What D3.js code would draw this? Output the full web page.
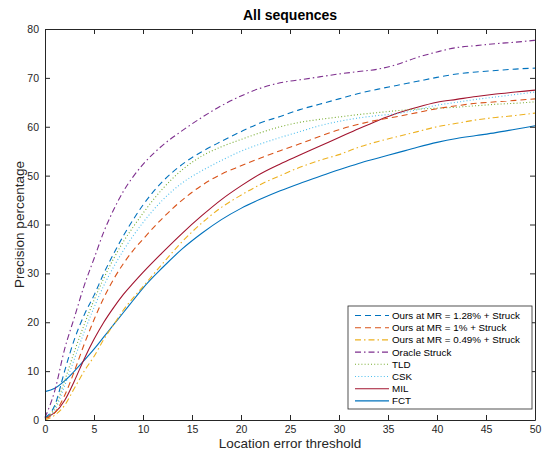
<!DOCTYPE html>
<html>
<head>
<meta charset="utf-8">
<script src="https://cdn.jsdelivr.net/npm/d3@7"></script>
<style>
  body { margin: 0; background: #fff; }
  svg { font-family: "Liberation Sans", Arial, sans-serif; }
</style>
</head>
<body>
<svg id="chart" width="543" height="455"></svg>
<script>
// threshold values (x)
const thresholds = [0,1,2,3,4,5,6,7,8,9,10,12,14,16,18,20,22,24,26,28,30,32,34,36,38,40,42,44,46,48,50]

// precision percentage per tracker
const ours128 = [0.5,3,10,16.5,21.5,25.5,30,34,37.7,41,44,48.8,52.3,54.9,57,59,60.8,62.1,63.5,64.6,65.7,66.8,67.7,68.5,69.3,70.1,70.8,71.2,71.5,71.8,72]
const ours1 = [0.3,1.5,5,10,15.5,20.5,25,28.8,32,34.7,37,41.3,45,48,50.3,52,53.6,55.1,56.5,58,59.4,60.5,61.4,62.1,62.9,63.7,64.3,64.8,65.1,65.4,65.7]
const ours049 = [0,1,3,6.5,10,13,16.5,19.5,22.5,25,27.3,32,36.5,40.3,43.5,46,48.2,50,51.7,53.1,54.3,55.8,57,58,59,60,60.7,61.4,61.9,62.3,62.8]
const oracle = [0.5,6,14.5,21,27.5,33,38.5,43,46.8,49.8,52.3,56.2,59.2,61.9,64.3,66.3,67.9,69,69.6,70.2,70.8,71.3,71.8,72.8,74.2,75.3,76.2,76.6,77,77.3,77.7]
const tld = [0.3,2.5,8,14,19.5,24.5,29,33,36.5,39.5,42.3,47.3,51.2,54,55.9,57.4,58.8,60,60.9,61.5,62,62.5,62.9,63.3,63.6,63.8,64,64.3,64.6,64.8,65.1]
const csk = [0.3,2,7,12.5,18,23,27.5,31.3,34.7,37.7,40.4,45,48.5,51,53.1,55,56.5,57.8,59,60.2,61.1,61.8,62.3,62.7,63.5,64.4,65,65.6,66.1,66.6,67.1]
const mil = [0.5,1.5,4,8,12.5,16.5,20,23,25.7,28,30.2,34.3,38.2,41.8,45.1,47.9,50.4,52.4,54.2,56,57.8,59.6,61.3,62.8,64,65,65.6,66.2,66.7,67.1,67.5]
const fct = [5.8,6.5,8,10,12.2,14.5,17,19.5,22,24.5,27,31.2,35,38.2,41,43.3,45.2,46.9,48.4,49.8,51.2,52.5,53.6,54.7,55.8,56.8,57.6,58.2,58.8,59.5,60.2]

const names = ['Ours at MR = 1.28% + Struck','Ours at MR = 1% + Struck','Ours at MR = 0.49% + Struck','Oracle Struck','TLD','CSK','MIL','FCT']
const xTicks = [0,5,10,15,20,25,30,35,40,45,50]
const yTicks = [0,10,20,30,40,50,60,70,80]

const series = [
  { name: names[0], values: ours128, color: '#0072BD', dash: '6,4' },
  { name: names[1], values: ours1, color: '#D95319', dash: '6,4' },
  { name: names[2], values: ours049, color: '#EDB120', dash: '6,3,1.5,3' },
  { name: names[3], values: oracle, color: '#7E2F8E', dash: '6,3,1.5,3' },
  { name: names[4], values: tld, color: '#77AC30', dash: '1,2.2' },
  { name: names[5], values: csk, color: '#4DBEEE', dash: '1,2.2' },
  { name: names[6], values: mil, color: '#A2142F', dash: null },
  { name: names[7], values: fct, color: '#0072BD', dash: null }
]

const svg = d3.select('#chart')
const pLeft = 45, pRight = 535, pTop = 29, pBottom = 420
const axisColor = '#262626'

const x = d3.scaleLinear().domain([0, 50]).range([pLeft, pRight])
const y = d3.scaleLinear().domain([0, 80]).range([pBottom, pTop])

// plot background
svg.append('rect').attr('x', pLeft).attr('y', pTop)
  .attr('width', pRight - pLeft).attr('height', pBottom - pTop).attr('fill', '#fff')

// curves
const line = d3.line()
  .x((d, i) => x(thresholds[i]))
  .y(d => y(d))
  .curve(d3.curveMonotoneX)

const plot = svg.append('g')
series.slice().reverse().forEach(s => {
  plot.append('path')
    .datum(s.values)
    .attr('d', line)
    .attr('fill', 'none')
    .attr('stroke', s.color)
    .attr('stroke-width', 1.1)
    .attr('stroke-dasharray', s.dash)
})

// axes, MATLAB style ticks inside the box
const xAxis = d3.axisBottom(x).tickValues(xTicks).tickSizeInner(-5).tickSizeOuter(0).tickPadding(6)
const yAxis = d3.axisLeft(y).tickValues(yTicks).tickSizeInner(-5).tickSizeOuter(0).tickPadding(6)
const xTop = d3.axisTop(x).tickValues(xTicks).tickSizeInner(-5).tickSizeOuter(0).tickFormat('')
const yRight = d3.axisRight(y).tickValues(yTicks).tickSizeInner(-5).tickSizeOuter(0).tickFormat('')

const styleAxis = g => {
  g.selectAll('path').attr('stroke', axisColor).attr('stroke-width', 1)
  g.selectAll('line').attr('stroke', axisColor).attr('stroke-width', 1)
  g.selectAll('text').attr('fill', axisColor).style('font-size', '10.5px')
}

svg.append('g').attr('transform', `translate(0,${pBottom})`).call(xAxis).call(styleAxis)
svg.append('g').attr('transform', `translate(${pLeft},0)`).call(yAxis).call(styleAxis)
svg.append('g').attr('transform', `translate(0,${pTop})`).call(xTop).call(styleAxis)
svg.append('g').attr('transform', `translate(${pRight},0)`).call(yRight).call(styleAxis)

// title and labels
svg.append('text').attr('x', (pLeft + pRight) / 2).attr('y', 20)
  .attr('text-anchor', 'middle').style('font-size', '14px').style('font-weight', 'bold')
  .attr('fill', '#000').text('All sequences')

svg.append('text').attr('x', (pLeft + pRight) / 2).attr('y', 448)
  .attr('text-anchor', 'middle').style('font-size', '13.5px')
  .attr('fill', axisColor).text('Location error threshold')

svg.append('text')
  .attr('transform', `translate(24,${(pTop + pBottom) / 2}) rotate(-90)`)
  .attr('text-anchor', 'middle').style('font-size', '13.5px')
  .attr('fill', axisColor).text('Precision percentage')

// legend
const lg = svg.append('g').attr('transform', 'translate(348,306)')
lg.append('rect').attr('width', 184).attr('height', 103)
  .attr('fill', '#fff').attr('stroke', axisColor).attr('stroke-width', 0.8)

series.forEach((s, i) => {
  const ly = 9.5 + i * 12.2
  lg.append('line').attr('x1', 7).attr('x2', 41).attr('y1', ly).attr('y2', ly)
    .attr('stroke', s.color).attr('stroke-width', 1.1).attr('stroke-dasharray', s.dash)
  lg.append('text').attr('x', 44).attr('y', ly + 3.5)
    .style('font-size', '9.8px').attr('fill', '#000').text(s.name)
})
</script>
</body>
</html>
